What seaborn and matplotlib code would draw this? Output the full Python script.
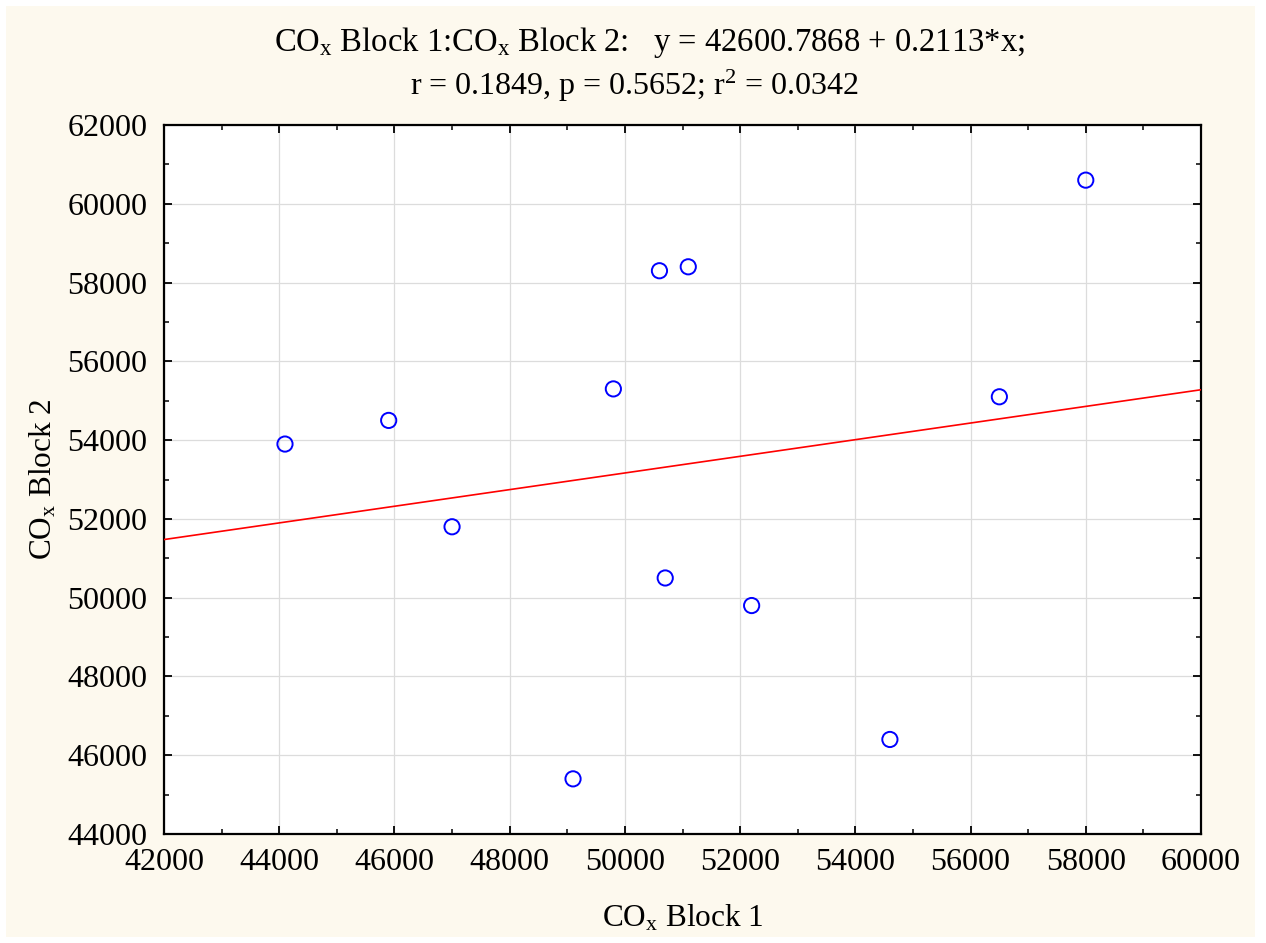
import matplotlib
matplotlib.use("Agg")
import matplotlib.pyplot as plt
from matplotlib.patches import Rectangle
from matplotlib.ticker import MultipleLocator
import numpy as np
import pandas as pd
import seaborn as sns

# CO_x measurements, paired by sample
block1 = [44100, 45900, 47000, 49100, 49800, 50600, 51100, 50700, 52200, 54600, 56500, 58000]
block2 = [53900, 54500, 51800, 45400, 55300, 58300, 58400, 50500, 49800, 46400, 55100, 60600]

# fitted regression statistics
intercept = 42600.7868
slope = 0.2113
r_value = 0.1849
p_value = 0.5652
r_squared = 0.0342

x_ticks = [42000, 44000, 46000, 48000, 50000, 52000, 54000, 56000, 58000, 60000]
y_ticks = [44000, 46000, 48000, 50000, 52000, 54000, 56000, 58000, 60000, 62000]

sns.set_style("white")
plt.rcParams["font.family"] = ["Liberation Serif", "DejaVu Serif"]
plt.rcParams["mathtext.fontset"] = "custom"
plt.rcParams["mathtext.rm"] = "Liberation Serif"
plt.rcParams["mathtext.it"] = "Liberation Serif:italic"
plt.rcParams["text.color"] = "black"
plt.rcParams["axes.labelcolor"] = "black"

cream = "#fdf9ee"
fig = plt.figure(figsize=(12.66, 9.43), dpi=100, facecolor="white")
fig.patches.append(Rectangle((6 / 1266, 6 / 943), 1249 / 1266, 931 / 943,
                             transform=fig.transFigure, facecolor=cream,
                             edgecolor="none", zorder=-10))

ax = fig.add_axes([164 / 1266, 1 - 834 / 943, 1037 / 1266, 709 / 943])
ax.set_facecolor("white")

df = pd.DataFrame({"block1": block1, "block2": block2})

ax.set_xlim(x_ticks[0], x_ticks[-1])
ax.set_ylim(y_ticks[0], y_ticks[-1])

# regression line across the full x range
xl = np.array([x_ticks[0], x_ticks[-1]], dtype=float)
line_df = pd.DataFrame({"x": xl, "y": intercept + slope * xl})
sns.lineplot(data=line_df, x="x", y="y", ax=ax, color="#ff0000", linewidth=1.2, zorder=3)

sns.scatterplot(data=df, x="block1", y="block2", ax=ax, marker="o", s=120,
                facecolors="none", edgecolor="#0000ff", linewidth=1.4, zorder=4)

ax.set_xticks(x_ticks)
ax.set_yticks(y_ticks)
ax.xaxis.set_minor_locator(MultipleLocator(1000))
ax.yaxis.set_minor_locator(MultipleLocator(1000))
ax.grid(True, which="major", color="#dcdcdc", linewidth=0.9)
ax.set_axisbelow(True)

ax.tick_params(which="both", direction="in", top=True, right=True, bottom=True, left=True,
               colors="black", labelsize=23)
ax.tick_params(which="major", length=6, width=1.3)
ax.tick_params(which="minor", length=3.5, width=1.1)
ax.tick_params(axis="y", which="major", pad=12)
ax.tick_params(axis="x", which="major", pad=10)

for sp in ax.spines.values():
    sp.set_visible(True)
    sp.set_color("black")
    sp.set_linewidth(1.6)

ax.set_xlabel(r"CO$_\mathrm{x}$ Block 1", fontsize=22.5, labelpad=19)
ax.set_ylabel(r"CO$_\mathrm{x}$ Block 2", fontsize=22.5, labelpad=6)

fig.text(0.513, 1 - 43 / 943,
         r"CO$_\mathrm{x}$ Block 1:CO$_\mathrm{x}$ Block 2:   y = %.4f + %.4f*x;" % (intercept, slope),
         ha="center", va="center", fontsize=23.5)
fig.text(0.501, 1 - 86 / 943,
         r"r = %.4f, p = %.4f; r$^\mathrm{2}$ = %.4f" % (r_value, p_value, r_squared),
         ha="center", va="center", fontsize=23)

fig.savefig("out.png", dpi=100, facecolor=fig.get_facecolor())
